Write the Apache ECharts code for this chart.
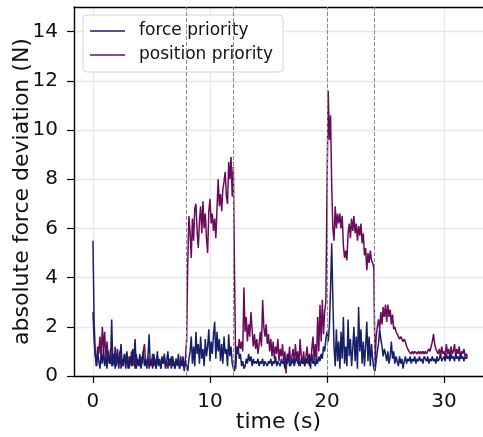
<!DOCTYPE html>
<html><head><meta charset="utf-8">
<script src="https://cdn.jsdelivr.net/npm/echarts@6/dist/echarts.min.js"></script>
<style>html,body{margin:0;padding:0;background:#fff}#c{width:483px;height:437px}</style>
</head><body><div id="c"></div>
<script>
// time step of samples (s)
const tStart = 0;
const tStep = 0.1;
// force priority (N), one row per second
const forcePriority = [
5.5,2.2,0.9,0.4,1.0,0.6,0.3,0.9,0.5,1.1,
0.4,0.8,0.3,1.0,0.6,0.5,2.3,0.4,0.9,0.3,
0.7,1.1,0.3,0.8,1.3,0.4,0.6,0.9,0.3,1.0,
0.5,0.3,0.8,0.4,1.1,0.6,1.5,0.3,0.7,0.4,
0.9,0.3,0.6,1.0,0.4,0.7,0.3,0.8,1.7,0.4,
0.6,0.3,0.9,0.5,0.3,1.0,0.4,0.7,0.3,0.8,
0.5,0.9,0.3,0.6,1.0,0.4,0.7,0.3,0.8,0.5,
0.3,0.7,0.4,0.9,0.3,0.6,0.4,0.8,0.3,0.6,
0.4,0.2,0.7,1.0,1.6,0.5,1.2,0.4,1.8,0.9,
1.3,0.5,1.6,0.7,1.1,0.4,1.5,0.8,1.2,1.9,
0.6,1.4,0.9,1.7,2.2,0.7,1.8,1.0,1.5,0.6,
1.3,0.5,1.6,0.9,1.1,0.4,1.7,0.8,1.2,0.5,
0.3,0.2,0.8,1.0,1.2,0.7,0.9,0.4,0.6,0.3,
0.4,0.7,0.5,0.9,0.6,0.8,0.4,0.7,0.5,0.6,
0.5,0.7,0.4,0.6,0.5,0.7,0.4,0.6,0.5,0.4,
0.6,0.5,0.7,0.4,0.6,0.5,0.8,0.4,0.6,0.5,
0.4,0.7,0.5,0.6,0.3,0.7,0.5,0.9,0.4,0.6,
0.5,0.7,0.4,0.6,0.8,0.5,0.6,0.4,0.7,0.5,
0.6,0.4,0.7,0.5,0.8,0.4,0.6,0.9,0.5,0.6,
0.4,0.7,0.5,0.8,0.6,0.9,0.7,1.2,1.0,1.5,
1.8,1.4,2.0,3.5,5.4,3.1,1.2,0.4,1.9,0.6,
1.4,0.3,1.8,0.7,2.4,0.5,1.2,0.4,2.3,0.8,
1.5,0.4,1.1,2.0,0.6,1.6,0.3,2.8,1.0,1.9,
0.5,1.4,0.4,1.2,2.2,0.6,1.6,0.4,1.3,0.7,
0.3,0.2,0.6,1.0,1.3,1.9,1.5,1.2,0.8,1.1,
0.9,0.6,1.0,0.5,0.8,1.4,0.7,1.0,0.5,0.8,
0.6,0.4,0.8,0.5,0.7,0.3,0.6,0.8,0.5,0.7,
0.6,0.8,0.5,0.7,0.6,0.8,0.5,0.7,0.6,0.8,
0.6,0.7,0.5,0.8,0.7,0.6,0.8,0.5,0.7,0.6,
0.8,0.6,0.7,0.5,0.8,0.6,0.7,0.9,0.6,0.7,
0.8,0.6,0.9,0.7,0.8,0.6,0.9,0.7,0.8,0.6,
0.9,0.7,0.8,0.6,0.9,0.7,0.8,0.6,0.8,0.7,
0.8
];
// position priority (N), one row per second
const positionPriority = [
2.6,1.4,0.8,0.4,1.2,0.9,1.6,0.7,2.0,1.1,
1.8,0.6,1.4,0.8,0.5,1.1,0.4,0.9,0.6,1.2,
0.4,0.8,0.5,1.0,0.3,0.7,0.4,0.9,0.5,0.7,
0.3,0.8,0.5,1.0,0.4,0.7,0.3,0.9,0.5,0.6,
0.4,0.8,0.5,1.0,1.3,0.6,0.4,0.8,0.3,0.7,
0.5,0.9,0.4,0.7,0.3,0.8,0.5,0.6,0.3,0.7,
0.5,0.8,0.4,0.6,0.3,0.7,0.5,0.8,0.4,0.6,
0.3,0.7,0.5,0.6,0.3,0.8,0.4,0.6,0.2,0.7,
1.4,4.6,6.5,5.8,4.8,6.4,5.5,6.8,7.0,5.9,
5.2,6.3,6.9,5.8,7.1,6.0,6.6,5.6,5.0,6.7,
7.2,6.2,6.6,5.9,6.4,5.6,6.8,8.0,6.9,7.4,
6.7,7.6,7.9,8.3,7.3,7.0,8.7,8.0,8.9,7.3,
8.5,4.0,0.3,1.2,0.9,1.5,1.1,1.4,1.0,3.6,
1.8,2.4,1.4,2.1,1.6,2.6,1.9,1.2,1.7,1.1,
1.5,0.9,1.3,1.8,1.2,3.1,2.0,1.6,2.1,1.3,
1.7,1.0,1.5,0.8,1.4,0.7,1.2,0.9,1.5,0.6,
1.1,0.8,1.3,0.5,1.0,0.1,0.9,0.6,1.2,0.4,
0.8,1.1,0.5,1.3,0.7,1.0,0.4,1.5,0.8,0.5,
1.0,0.4,0.8,1.2,0.5,0.9,0.3,1.1,1.6,0.6,
1.3,0.5,2.4,1.0,2.9,1.4,3.1,1.7,2.6,3.0,
7.5,11.6,9.6,10.6,7.8,6.0,5.5,6.9,6.0,6.6,
6.2,6.6,6.0,6.5,5.3,4.8,5.1,4.7,5.8,6.2,
5.6,6.4,5.9,6.5,5.8,6.2,5.5,6.1,5.7,6.2,
5.4,5.8,4.9,5.2,4.3,5.0,4.6,5.1,4.7,4.6,
4.4,0.4,1.6,2.0,2.3,1.9,2.6,2.1,2.8,2.4,
2.9,2.2,2.9,2.4,2.7,2.1,2.5,1.9,2.0,1.8,
1.7,1.6,1.5,1.6,1.5,1.4,1.5,1.4,1.2,1.1,
1.0,1.0,0.9,1.0,0.9,1.0,1.0,0.9,1.0,0.9,
1.0,0.9,1.0,0.9,1.0,0.9,1.0,1.1,1.0,1.2,
1.4,1.7,1.3,1.1,1.0,0.9,1.1,0.8,1.2,0.9,
1.0,0.8,1.3,0.9,1.1,0.7,1.2,0.9,1.0,1.3,
0.8,1.1,0.9,1.2,0.7,1.0,0.9,1.1,0.8,0.9,
0.8
];
const phaseMarks = [8, 12, 20, 24];
const xTicks = [0, 10, 20, 30];
const yTicks = [0, 2, 4, 6, 8, 10, 12, 14];
const seriesNames = ['force priority', 'position priority'];

const toPairs = arr => arr.map((v, i) => [+(tStart + i * tStep).toFixed(2), v]);

const FONT = 'DejaVu Sans';
const TXT = '#111';
const chart = echarts.init(document.getElementById('c'), null, {renderer: 'canvas'});
chart.setOption({
  animation: false,
  backgroundColor: '#fff',
  grid: {left: 74, top: 7, right: 0, bottom: 61, outerBoundsMode: 'none', containLabel: false},
  legend: {
    orient: 'vertical', left: 83, top: 15,
    data: seriesNames,
    itemWidth: 35, itemHeight: 1.5, itemGap: 4,
    icon: 'rect',
    backgroundColor: 'rgba(255,255,255,0.85)',
    borderColor: '#d6d6d6', borderWidth: 1, borderRadius: 4,
    padding: [6, 10, 7, 7],
    textStyle: {fontFamily: FONT, fontSize: 17, lineHeight: 20, color: TXT, padding: [0, 0, 0, 9]}
  },
  xAxis: [{
    type: 'value', min: -1.62, max: 33.33,
    name: 'time (s)', nameLocation: 'middle', nameGap: 35, nameMoveOverlap: false,
    nameTextStyle: {fontFamily: FONT, fontSize: 22, color: TXT},
    axisLine: {onZero: false, lineStyle: {color: '#000', width: 1.4}},
    axisTick: {show: true, inside: false, length: 7, lineStyle: {color: '#000', width: 1.2}, customValues: xTicks},
    axisLabel: {fontFamily: FONT, fontSize: 20, color: TXT, margin: 16, customValues: xTicks},
    splitLine: {show: true, lineStyle: {color: '#e8e8e8', width: 1.3}, customValues: xTicks}
  }, {
    type: 'value', position: 'top', min: -1.62, max: 33.33,
    axisLine: {show: true, onZero: false, lineStyle: {color: '#000', width: 1.4}},
    axisTick: {show: false}, axisLabel: {show: false}, splitLine: {show: false}
  }],
  yAxis: {
    type: 'value', min: 0, max: 15,
    name: 'absolute force deviation (N)', nameLocation: 'middle', nameGap: 41, nameRotate: 90, nameMoveOverlap: false,
    nameTextStyle: {fontFamily: FONT, fontSize: 22, color: TXT},
    axisLine: {onZero: false, lineStyle: {color: '#000', width: 1.4}},
    axisTick: {show: true, inside: false, length: 7, lineStyle: {color: '#000', width: 1.2}, customValues: yTicks},
    axisLabel: {fontFamily: FONT, fontSize: 20, color: TXT, margin: 16, customValues: yTicks},
    splitLine: {show: true, lineStyle: {color: '#e8e8e8', width: 1.3}, customValues: yTicks}
  },
  series: [
    {
      name: seriesNames[0], type: 'line', data: toPairs(forcePriority),
      xAxisIndex: 0, showSymbol: false, symbol: 'none', z: 3,
      lineStyle: {color: '#16206a', width: 1.5}, itemStyle: {color: '#16206a'},
      markLine: {
        silent: true, symbol: 'none', label: {show: false},
        lineStyle: {color: '#8a8a8a', type: [4, 2], width: 1},
        data: phaseMarks.map(x => ({xAxis: x}))
      }
    },
    {
      name: seriesNames[1], type: 'line', data: toPairs(positionPriority),
      xAxisIndex: 0, showSymbol: false, symbol: 'none', z: 2,
      lineStyle: {color: '#6a0b5c', width: 1.5}, itemStyle: {color: '#6a0b5c'}
    }
  ]
});
</script></body></html>
